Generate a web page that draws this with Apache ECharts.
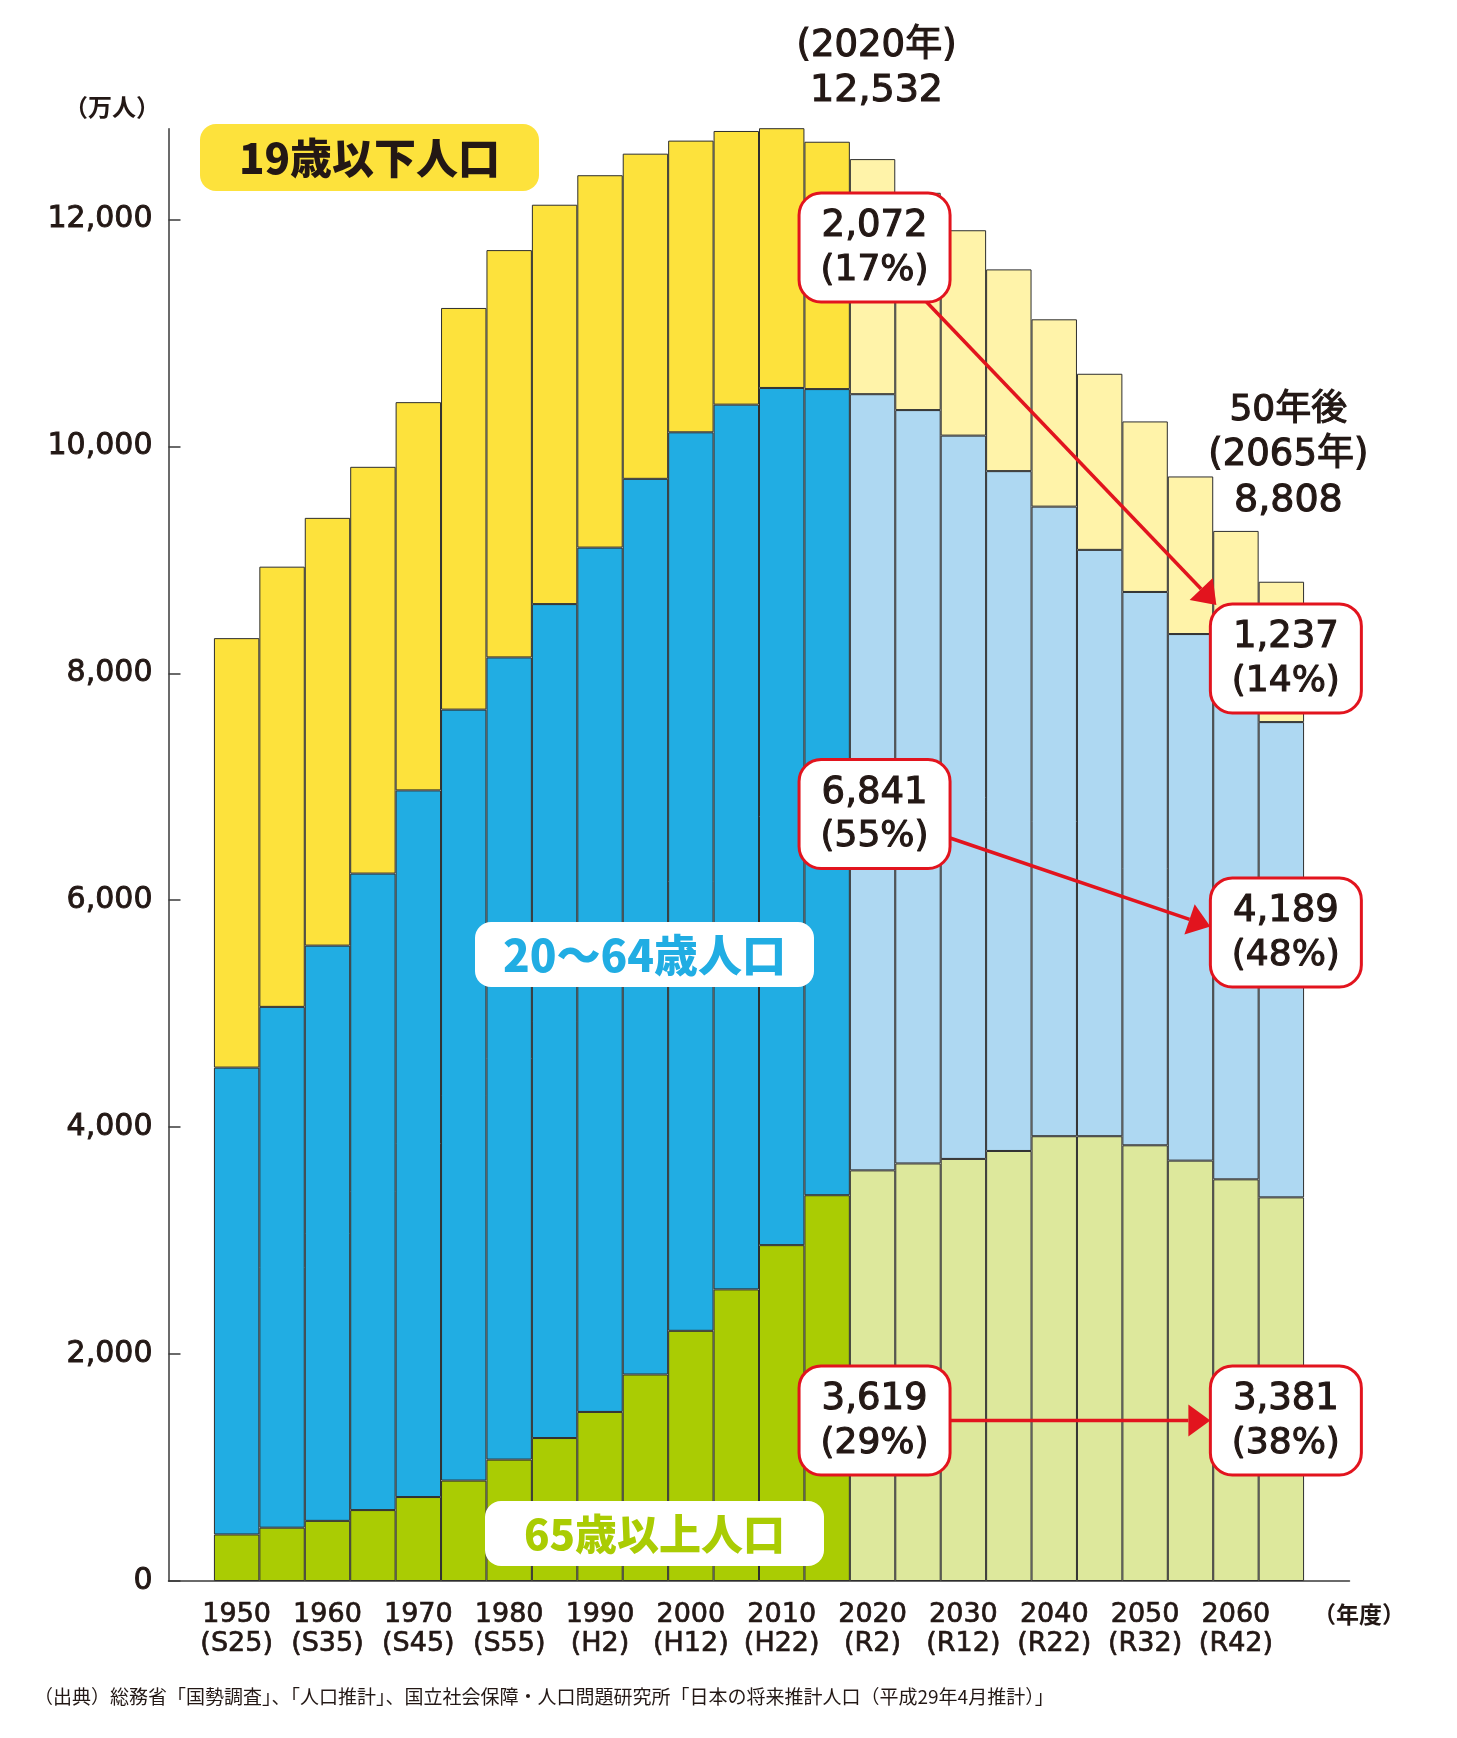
<!DOCTYPE html>
<html>
<head>
<meta charset="utf-8">
<script src="https://cdn.jsdelivr.net/npm/echarts@6/dist/echarts.min.js"></script>
<style>
html,body{margin:0;padding:0;background:#ffffff;}
#chart{width:1457px;height:1738px;}
</style>
</head>
<body>
<div id="chart"></div>
<script>
// ---------------- DATA (万人) ----------------
const years = [1950,1955,1960,1965,1970,1975,1980,1985,1990,1995,2000,2005,2010,2015,2020,2025,2030,2035,2040,2045,2050,2055,2060,2065];
const age65plus = [410,470,530,625,740,885,1070,1260,1490,1820,2205,2570,2960,3400,3619,3680,3720,3790,3920,3920,3840,3705,3540,3381];
const age20to64 = [4115,4590,5070,5610,6228,6795,7070,7350,7618,7894,7919,7798,7555,7105,6841,6640,6375,5992,5549,5168,4877,4641,4473,4189];
const age0to19  = [3785,3880,3770,3585,3422,3540,3590,3520,3282,2866,2571,2412,2290,2180,2072,1915,1810,1778,1651,1552,1503,1389,1242,1237];
const firstProjectedYear = 2020;
const yTickValues = [0,2000,4000,6000,8000,10000,12000];
const labeledYears = [1950,1960,1970,1980,1990,2000,2010,2020,2030,2040,2050,2060];
const eraLabels = ['S25','S35','S45','S55','H2','H12','H22','R2','R12','R22','R32','R42'];
const calloutYears = [2020,2065];
const calloutTotals = [12532,8808];
const sourceText = '（出典）総務省「国勢調査」、「人口推計」、国立社会保障・人口問題研究所「日本の将来推計人口（平成29年4月推計）」';

// ---------------- STYLE ----------------
const COL = {
  yellow:'#FDE23C', blue:'#21ADE3', green:'#AACC03',
  yellowL:'#FFF3A9', blueL:'#AED8F2', greenL:'#DDE89C',
  red:'#E2141E', text:'#231815'
};
const NUMFONT = '"DejaVu Sans","Noto Sans CJK JP",sans-serif';
const JPFONT = '"Noto Sans CJK JP","DejaVu Sans",sans-serif';

const cats = ['pad_a'].concat(years.map(String)).concat(['pad_b']);
function build(arr, cH, cP){
  return ['-'].concat(arr.map((v,i)=>({
    value:v,
    itemStyle:{color: years[i] >= firstProjectedYear ? cP : cH}
  }))).concat(['-']);
}

const chart = echarts.init(document.getElementById('chart'), null, {renderer:'canvas'});
const barCommon = {
  type:'bar', stack:'pop', barWidth:'100%', barCategoryGap:0,
  itemStyle:{borderColor:'#2e2e2e', borderWidth:1},
  emphasis:{disabled:true}, animation:false
};
const option = {
  animation:false,
  backgroundColor:'#ffffff',
  grid:{left:168.5, right:107.5, top:128.7, bottom:157, containLabel:false},
  xAxis:{
    type:'category', data:cats, boundaryGap:true,
    axisLine:{show:true, lineStyle:{color:'#3a3a3a', width:1.5}},
    axisTick:{show:false},
    axisLabel:{
      interval:0, margin:19, fontFamily:NUMFONT, fontSize:27, lineHeight:29, color:COL.text,
      textBorderColor:COL.text, textBorderWidth:0.7,
      formatter:function(v){
        const k = labeledYears.indexOf(Number(v));
        return k < 0 ? '' : labeledYears[k] + '\n(' + eraLabels[k] + ')';
      }
    },
    splitLine:{show:false}
  },
  yAxis:{
    type:'value', min:0, max:12800,
    axisLine:{show:true, lineStyle:{color:'#3a3a3a', width:1.5}},
    axisTick:{show:true, inside:true, length:12, lineStyle:{color:'#3a3a3a', width:1.5}, customValues:yTickValues},
    axisLabel:{margin:16, fontFamily:NUMFONT, fontSize:30, color:COL.text, customValues:yTickValues,
      textBorderColor:COL.text, textBorderWidth:0.9,
      formatter:function(v){ return v.toLocaleString('en-US'); }},
    splitLine:{show:false}
  },
  series:[
    Object.assign({name:'65歳以上人口', data:build(age65plus, COL.green, COL.greenL)}, barCommon),
    Object.assign({name:'20～64歳人口', data:build(age20to64, COL.blue, COL.blueL)}, barCommon),
    Object.assign({name:'19歳以下人口', data:build(age0to19, COL.yellow, COL.yellowL)}, barCommon)
  ]
};
chart.setOption(option);

// ---------------- ANNOTATIONS ----------------
function P(year, v){ return chart.convertToPixel({xAxisIndex:0, yAxisIndex:0}, [String(year), v]); }
function txt(x, y, text, size, opts){
  opts = opts || {};
  const st = {
    text:text, fontSize:size, fontFamily:opts.family || NUMFONT, fontWeight:opts.weight || 'normal',
    fill:opts.color || COL.text, align:opts.align || 'center', verticalAlign:'middle',
    textAlign:opts.align || 'center', textVerticalAlign:'middle'
  };
  if (opts.border) { st.stroke = opts.color || COL.text; st.lineWidth = opts.border; }
  return {type:'text', z:60, x:x, y:y, style:st};
}
function rrect(x, y, w, h, r, fill, stroke, lw){
  return {type:'rect', z:55, shape:{x:x, y:y, width:w, height:h, r:r},
    style:{fill:fill, stroke:stroke || null, lineWidth:lw || 0}};
}
function arrow(x1, y1, x2, y2){
  const dx = x2-x1, dy = y2-y1, L = Math.sqrt(dx*dx+dy*dy);
  const ux = dx/L, uy = dy/L, nx = -uy, ny = ux;
  const hl = 22, hw = 16;
  const bx = x2 - ux*hl, by = y2 - uy*hl;
  return [
    {type:'line', z:58, shape:{x1:x1, y1:y1, x2:bx, y2:by}, style:{stroke:COL.red, lineWidth:3.5}},
    {type:'polygon', z:58, shape:{points:[[x2,y2],[bx+nx*hw, by+ny*hw],[bx-nx*hw, by-ny*hw]]}, style:{fill:COL.red}}
  ];
}

const els = [];
// axis unit labels
els.push(txt(112, 107, '（万人）', 24, {family:JPFONT, weight:'bold'}));
els.push(txt(1359, 1614, '（年度）', 23, {family:JPFONT, weight:'bold'}));
// source
els.push(txt(34, 1697, sourceText, 19, {family:JPFONT, weight:'normal', align:'left'}));

// category label boxes
els.push(rrect(200, 124, 339, 67, 16, COL.yellow));
els.push(txt(369.5, 158, '19歳以下人口', 42, {family:JPFONT, weight:900, color:COL.text}));
els.push(rrect(475, 922, 339, 65, 16, '#ffffff'));
els.push(txt(644.5, 955, '20～64歳人口', 44, {family:JPFONT, weight:900, color:COL.blue}));
els.push(rrect(485, 1501, 339, 65, 16, '#ffffff'));
els.push(txt(654.5, 1534, '65歳以上人口', 42, {family:JPFONT, weight:900, color:COL.green}));

// headline totals
const HB = 1.1;
const p20 = P(2020, calloutTotals[0]);
els.push(txt(p20[0]+4, p20[1]-113, '(2020年)', 37, {border:HB}));
els.push(txt(p20[0]+4, p20[1]-68, calloutTotals[0].toLocaleString('en-US'), 38, {border:HB}));
const p65 = P(2065, calloutTotals[1]);
els.push(txt(p65[0]+7, p65[1]-171, '50年後', 36, {border:HB}));
els.push(txt(p65[0]+7, p65[1]-126, '(2065年)', 37, {border:HB}));
els.push(txt(p65[0]+7, p65[1]-81, calloutTotals[1].toLocaleString('en-US'), 38, {border:HB}));

// callout boxes: anchor values (layout only) for box centres
const boxAnchor = [[11753, 6760, 1415],[8131, 5716, 1415]];
const segs = [age0to19, age20to64, age65plus];
const BW = 151, BH = 109;
const boxes = [[],[]];
calloutYears.forEach(function(yr, ci){
  const idx = years.indexOf(yr);
  segs.forEach(function(arr, si){
    const v = arr[idx];
    const pct = Math.round(v / calloutTotals[ci] * 100);
    const c = P(yr, boxAnchor[ci][si]);
    const cx = c[0] + (ci === 0 ? 2 : 4.5), cy = c[1];
    boxes[ci][si] = {cx:cx, cy:cy, l:cx-BW/2, r:cx+BW/2, t:cy-BH/2, b:cy+BH/2};
    els.push(rrect(cx-BW/2, cy-BH/2, BW, BH, 22, '#ffffff', COL.red, 3));
    els.push(txt(cx, cy-21, v.toLocaleString('en-US'), 37, {border:HB}));
    els.push(txt(cx, cy+23, '(' + pct + '%)', 36, {border:HB}));
  });
});
// arrows
const a = boxes[0], b = boxes[1];
arrow(a[0].cx+52, a[0].b, b[0].l+6, b[0].t+1).forEach(e=>els.push(e));
arrow(a[1].r, a[1].cy+24, b[1].l, b[1].cy-6).forEach(e=>els.push(e));
arrow(a[2].r, a[2].cy, b[2].l, b[2].cy).forEach(e=>els.push(e));

chart.setOption({graphic:{elements:els}});
</script>
</body>
</html>
